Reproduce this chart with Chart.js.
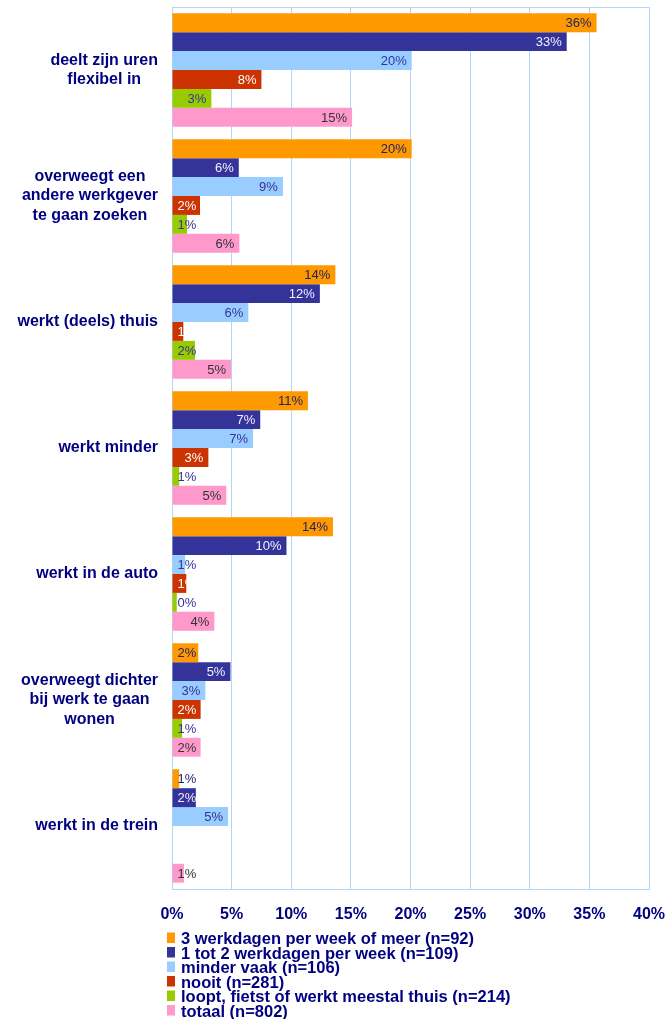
<!DOCTYPE html>
<html>
<head>
<meta charset="utf-8">
<script src="https://cdn.jsdelivr.net/npm/chart.js@4/dist/chart.umd.min.js"></script>
<style>
  html, body { margin: 0; padding: 0; background: #fff; }
  #wrap { width: 667px; height: 1019px; }
</style>
</head>
<body>
<div id="wrap"><canvas id="myChart" width="667" height="1019"></canvas></div>
<script>
// categories (one label per group, split in lines like the original)
const categories = [
  ["deelt zijn uren", "flexibel in"],
  ["overweegt een", "andere werkgever", "te gaan zoeken"],
  ["werkt (deels) thuis"],
  ["werkt minder"],
  ["werkt in de auto"],
  ["overweegt dichter", "bij werk te gaan", "wonen"],
  ["werkt in de trein"]
];

const seriesNames = [
  "3 werkdagen per week of meer (n=92)",
  "1 tot 2 werkdagen per week (n=109)",
  "minder vaak (n=106)",
  "nooit (n=281)",
  "loopt, fietst of werkt meestal thuis (n=214)",
  "totaal (n=802)"
];

// percentages
const drieOfMeer = [35.6, 20.1, 13.7, 11.4, 13.5, 2.2, 0.6];
const eenTotTwee = [33.1, 5.6, 12.4, 7.4, 9.6, 4.9, 2.0];
const minderVaak = [20.1, 9.3, 6.4, 6.8, 1.1, 2.8, 4.7];
const nooit = [7.5, 2.35, 0.95, 3.05, 1.2, 2.4, null];
const looptFietst = [3.3, 1.26, 1.93, 0.6, 0.4, 0.85, null];
const totaal = [15.1, 5.65, 4.95, 4.55, 3.55, 2.4, 1.0];

const xTicks = [0, 5, 10, 15, 20, 25, 30, 35, 40];

const seriesData = [drieOfMeer, eenTotTwee, minderVaak, nooit, looptFietst, totaal];
const barColors = ["#FF9900", "#333399", "#99CCFF", "#CC3300", "#99CC00", "#FF99CC"];
const labelColors = ["#222266", "#f0f0ff", "#333399", "#ffffff", "#333399", "#333333"];

const navy = "#000080";
const gridBlue = "#b2d6fa";
const fontName = '"Liberation Sans", Arial, sans-serif';

// value labels at the end of each bar
const valueLabels = {
  id: "valueLabels",
  afterDatasetsDraw(chart) {
    const ctx = chart.ctx;
    ctx.save();
    ctx.font = "13px " + fontName;
    ctx.textBaseline = "middle";
    ctx.textAlign = "left";
    chart.data.datasets.forEach((ds, i) => {
      const meta = chart.getDatasetMeta(i);
      meta.data.forEach((bar, j) => {
        const v = ds.data[j];
        if (v === null || v === undefined) return;
        const txt = Math.round(v) + "%";
        const w = ctx.measureText(txt).width;
        let x = bar.x - 5 - w;
        if (x < bar.base + 5) x = bar.base + 5;
        ctx.fillStyle = labelColors[i];
        ctx.fillText(txt, x, bar.y + 1);
      });
    });
    ctx.restore();
  }
};

// category labels: block right aligned, lines centered in the block
const categoryLabels = {
  id: "categoryLabels",
  afterDraw(chart) {
    const ctx = chart.ctx;
    const yScale = chart.scales.y;
    const right = chart.chartArea.left - 14;
    const lineH = 19.5;
    ctx.save();
    ctx.font = "bold 16px " + fontName;
    ctx.fillStyle = navy;
    ctx.textAlign = "center";
    ctx.textBaseline = "middle";
    categories.forEach((lines, i) => {
      const yc = yScale.getPixelForTick(i);
      let widest = 0;
      lines.forEach(l => { widest = Math.max(widest, ctx.measureText(l).width); });
      const cx = right - widest / 2;
      const y0 = yc - (lines.length - 1) * lineH / 2;
      lines.forEach((l, k) => ctx.fillText(l, cx, y0 + k * lineH));
    });
    ctx.restore();
  }
};

// plot frame + legend list under the axis
const frameAndLegend = {
  id: "frameAndLegend",
  beforeDatasetsDraw(chart) {
    const a = chart.chartArea;
    const ctx = chart.ctx;
    ctx.save();
    ctx.strokeStyle = gridBlue;
    ctx.lineWidth = 1;
    ctx.strokeRect(Math.round(a.left) + 0.5, Math.round(a.top) + 0.5,
      Math.round(a.right - a.left), Math.round(a.bottom - a.top));
    ctx.restore();
  },
  afterDraw(chart) {
    const ctx = chart.ctx;
    ctx.save();
    ctx.font = "bold 16.5px " + fontName;
    ctx.textBaseline = "alphabetic";
    ctx.textAlign = "left";
    seriesNames.forEach((name, i) => {
      const base = 944 + i * 14.5;
      ctx.fillStyle = barColors[i];
      ctx.fillRect(167, base - 11.5, 8, 10.5);
      ctx.fillStyle = navy;
      ctx.fillText(name, 181, base);
    });
    ctx.restore();
  }
};

const ctx = document.getElementById("myChart").getContext("2d");

new Chart(ctx, {
  type: "bar",
  data: {
    labels: categories.map(c => c.join(" ")),
    datasets: seriesData.map((d, i) => ({
      label: seriesNames[i],
      data: d,
      backgroundColor: barColors[i],
      borderWidth: 0,
      categoryPercentage: 0.9,
      barPercentage: 1.0
    }))
  },
  options: {
    indexAxis: "y",
    responsive: false,
    animation: false,
    layout: { padding: { top: 7, right: 18, bottom: 90, left: 0 } },
    plugins: {
      legend: { display: false },
      tooltip: { enabled: false }
    },
    scales: {
      x: {
        min: 0,
        max: 40,
        afterBuildTicks: s => { s.ticks = xTicks.map(v => ({ value: v })); },
        afterFit: s => { s.height = 40; s.paddingLeft = 0; s.paddingRight = 0; },
        grid: { color: gridBlue, drawTicks: false },
        border: { color: gridBlue },
        ticks: {
          padding: 16,
          color: navy,
          font: { family: fontName, size: 16, weight: "bold" },
          callback: v => v + "%"
        }
      },
      y: {
        afterFit: s => { s.width = 172; },
        grid: { display: false },
        border: { color: gridBlue },
        ticks: { display: false }
      }
    }
  },
  plugins: [valueLabels, categoryLabels, frameAndLegend]
});
</script>
</body>
</html>
